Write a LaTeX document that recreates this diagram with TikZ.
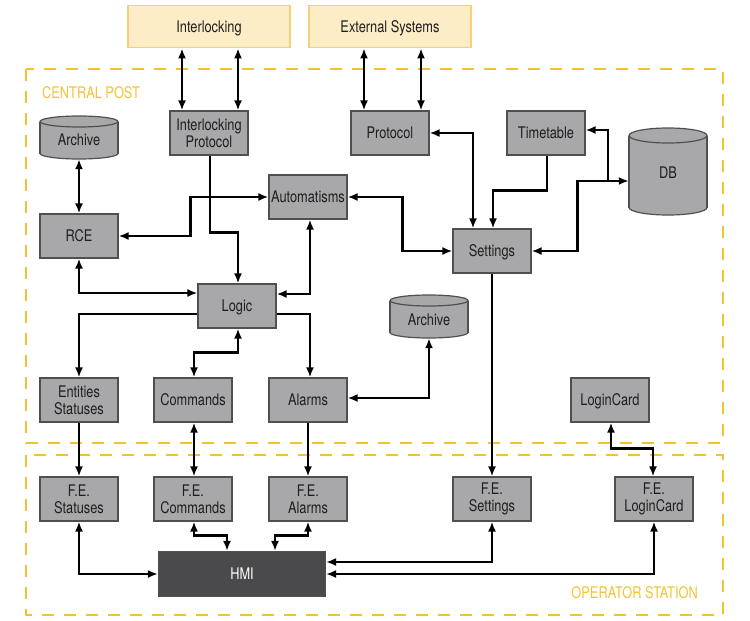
\documentclass[tikz,border=0pt]{standalone}
\usepackage{fontspec}
\setmainfont{TeX Gyre Heros}[FakeStretch=0.8]
\usetikzlibrary{arrows.meta}
\definecolor{boxgray}{HTML}{A8A8AA}
\definecolor{boxedge}{HTML}{505050}
\definecolor{txt}{HTML}{1E1E1E}
\definecolor{extfill}{HTML}{FDEDC6}
\definecolor{extedge}{HTML}{F5D07A}
\definecolor{gold}{HTML}{F2C232}
\definecolor{hmigray}{HTML}{4A4A4C}
% cylinder: center x, top y, bottom y, half width, ellipse half height
\newcommand\drawcyl[5]{%
  \filldraw[cylpart] (#1,#3-#5) ellipse [x radius=#4, y radius=#5];
  \fill[boxgray] (#1-#4,#2+#5) rectangle (#1+#4,#3-#5);
  \draw[cylpart] (#1-#4,#2+#5) -- (#1-#4,#3-#5) (#1+#4,#2+#5) -- (#1+#4,#3-#5);
  \filldraw[cylpart] (#1,#2+#5) ellipse [x radius=#4, y radius=#5];
}
\begin{document}
\begin{tikzpicture}[x=1pt,y=-1pt,
  fnt/.style={font=\fontsize{16}{17}\selectfont},
  one/.style={text height=11.6pt, text depth=0pt},
  box/.style={fnt, draw=boxedge, fill=boxgray, line width=1.2pt, minimum width=78pt, minimum height=44pt, inner sep=0pt, align=center, text=txt},
  extbox/.style={fnt, one, draw=extedge, fill=extfill, line width=1.8pt, minimum width=162pt, minimum height=42pt, inner sep=0pt, text=txt},
  cylpart/.style={draw=boxedge, fill=boxgray, line width=1.2pt},
  cylnode/.style={fnt, one, text=txt, inner sep=0pt},
  anchorbox/.style={draw=none, inner sep=0pt, minimum width=78pt},
  hmibox/.style={fnt, one, draw=boxedge, fill=hmigray, line width=1.2pt, minimum width=167pt, minimum height=45pt, inner sep=0pt, text=white},
  region/.style={draw=gold, line width=2pt, dash pattern=on 12pt off 10pt},
  regionlabel/.style={fnt, one, text=gold, inner sep=0pt},
  tip/.tip={Latex[length=10pt,width=8pt]},
  conn/.style={line width=2.4pt, -tip},
  dbl/.style={line width=2.4pt, tip-tip}
]
\useasboundingbox (0,0) rectangle (750,621);

% regions
\draw[region] (26,69) rectangle (723,443);
\draw[region] (26,455) rectangle (723,615);
\node[regionlabel, anchor=west] (cplabel) at (42,93) {CENTRAL POST};
\node[regionlabel, anchor=east] (oslabel) at (698,593) {OPERATOR STATION};

% external
\node[extbox] (ilock) at (209,26.5) {Interlocking};
\node[extbox] (ext) at (390,26.5) {External Systems};

% cylinders
\drawcyl{79}{116}{159}{39}{5.5}
\node[anchorbox, minimum height=43pt] (arch1) at (79,137.5) {};
\node[cylnode] (arch1t) at (79,140) {Archive};
\drawcyl{668}{128}{215}{39}{7.5}
\node[anchorbox, minimum height=87pt] (db) at (668,171.5) {};
\node[cylnode] (dbt) at (668,173) {DB};
\drawcyl{429}{295}{338}{39}{5.5}
\node[anchorbox, minimum height=43pt] (arch2) at (429,316.5) {};
\node[cylnode] (arch2t) at (429,320) {Archive};

% central post nodes
\node[box] (ilp) at (209,133) {Interlocking\\Protocol};
\node[box, one] (prot) at (390,133) {Protocol};
\node[box, one] (tt) at (546,133) {Timetable};
\node[box, one] (auto) at (308,197) {Automatisms};
\node[box, one] (rce) at (79,236) {RCE};
\node[box, one] (set) at (492,251) {Settings};
\node[box, one] (logic) at (237,306) {Logic};
\node[box] (ent) at (79,400) {Entities\\Statuses};
\node[box, one] (cmd) at (193,400) {Commands};
\node[box, one] (alarm) at (308,400) {Alarms};
\node[box, one] (login) at (610,400) {LoginCard};

% operator station nodes
\node[box] (fes) at (79,499) {F.E.\\Statuses};
\node[box] (fec) at (193,499) {F.E.\\Commands};
\node[box] (fea) at (308,499) {F.E.\\Alarms};
\node[box] (fese) at (492,499) {F.E.\\Settings};
\node[box] (fel) at (654,499) {F.E.\\LoginCard};
\node[hmibox] (hmi) at (242,574) {HMI};

% connectors
\draw[dbl] ([xshift=-27pt]ilock.south) -- ([xshift=-27pt]ilp.north);
\draw[dbl] ([xshift=29pt]ilock.south) -- ([xshift=29pt]ilp.north);
\draw[dbl] ([xshift=-26pt]ext.south) -- ([xshift=-26pt]prot.north);
\draw[dbl] ([xshift=31pt]ext.south) -- ([xshift=31pt]prot.north);
\draw[dbl] (arch1.south) -- (rce.north);
\draw[conn] ([xshift=1pt]ilp.south) -- ++(0,77) -| ([xshift=1pt]logic.north);
\draw[dbl] (auto.west) -- ++(-78,0) |- (rce.east);
\draw[dbl] (rce.south) |- ([yshift=13pt]logic.west);
\draw[dbl] ([xshift=2pt]auto.south) |- ([yshift=12pt]logic.east);
\draw[dbl] (auto.east) -- ++(55,0) |- (set.west);
\draw[dbl] (prot.east) -| ([xshift=-19pt]set.north);
\draw[conn] ([xshift=1pt]tt.south) -- ++(0,35) -| ([xshift=1pt]set.north);
\draw[dbl] (set.east) -- ++(46,0) |- ([yshift=-9.5pt]db.west);
\coordinate (j) at (608,181);
\draw[conn] (j) |- ([yshift=3pt]tt.east);
\draw[conn] ([yshift=-8pt]logic.west) -| (ent.north);
\draw[conn] ([yshift=-8pt]logic.east) -| ([xshift=2pt]alarm.north);
\draw[dbl] ([xshift=1pt]logic.south) -- ++(0,24) -| ([xshift=1pt]cmd.north);
\draw[dbl] (arch2.south) |- ([yshift=2pt]alarm.east);
\draw[conn] (ent.south) -- (fes.north);
\draw[dbl] ([xshift=1pt]cmd.south) -- ([xshift=1pt]fec.north);
\draw[conn] (alarm.south) -- (fea.north);
\draw[conn] (set.south) -- (fese.north);
\draw[dbl] ([xshift=1pt]login.south) -- ++(0,26) -| ([xshift=-1pt]fel.north);
\draw[dbl] (fes.south) |- (hmi.west);
\draw[dbl] ([xshift=1pt]fec.south) -- ++(0,14) -| ([xshift=-15pt]hmi.north);
\draw[dbl] (fea.south) -- ++(0,14) -| ([xshift=33pt]hmi.north);
\draw[dbl] (fese.south) |- ([yshift=12pt]hmi.east);
\draw[dbl] (fel.south) |- (hmi.east);
\end{tikzpicture}
\end{document}
